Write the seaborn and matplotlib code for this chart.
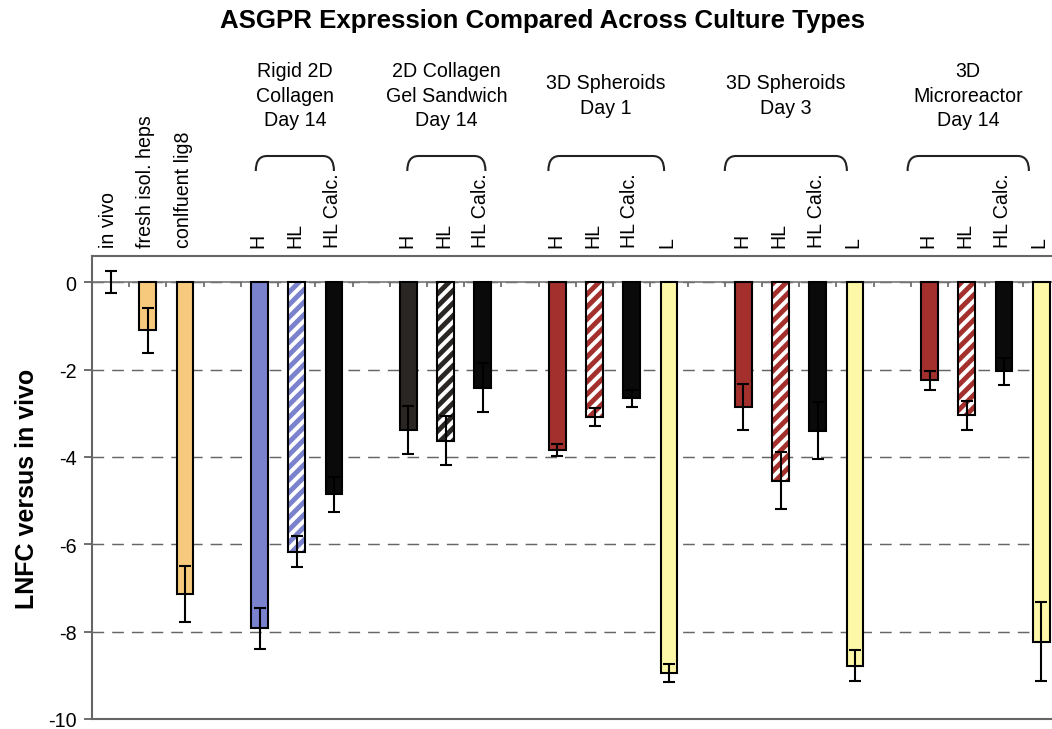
import matplotlib
matplotlib.use("Agg")
import numpy as np
import pandas as pd
import matplotlib.pyplot as plt
import seaborn as sns
from matplotlib.path import Path
from matplotlib.patches import PathPatch, Rectangle
from matplotlib.transforms import blended_transform_factory

sns.set_theme(style="white")
plt.rcParams["font.family"] = ["Liberation Sans", "DejaVu Sans"]
plt.rcParams["axes.unicode_minus"] = False
plt.rcParams["hatch.linewidth"] = 1.9

# ---- data: log-normalised fold change (LNFC) relative to in vivo ----
reference_labels = ["in vivo", "fresh isol. heps", "conlfuent lig8"]
reference_values = [0.0, -1.10, -7.14]
reference_errors = [0.25, 0.51, 0.65]

group_titles = [
    "Rigid 2D\nCollagen\nDay 14",
    "2D Collagen\nGel Sandwich\nDay 14",
    "3D Spheroids\nDay 1",
    "3D Spheroids\nDay 3",
    "3D\nMicroreactor\nDay 14",
]
group_conditions = [
    ["H", "HL", "HL Calc."],
    ["H", "HL", "HL Calc."],
    ["H", "HL", "HL Calc.", "L"],
    ["H", "HL", "HL Calc.", "L"],
    ["H", "HL", "HL Calc.", "L"],
]
group_values = [
    [-7.92, -6.17, -4.85],
    [-3.38, -3.63, -2.42],
    [-3.84, -3.09, -2.66, -8.95],
    [-2.86, -4.54, -3.40, -8.78],
    [-2.25, -3.05, -2.04, -8.23],
]
group_errors = [
    [0.47, 0.35, 0.40],
    [0.55, 0.56, 0.56],
    [0.13, 0.21, 0.19, 0.21],
    [0.52, 0.66, 0.65, 0.36],
    [0.21, 0.33, 0.31, 0.90],
]

# ---- styling ----
ORANGE = "#F7C97C"
BLUE = "#7A82CE"
DARK = "#2A2624"
RED = "#A3302C"
PALE = "#FDF7A8"
BLACK = "#0A0A0A"
reference_colors = ["white", ORANGE, ORANGE]
group_base_colors = [BLUE, DARK, RED, RED, RED]
# bracket extents over each group's bars, in slot units
group_brackets = [(3.9, 6.0), (7.97, 10.07), (11.76, 14.87), (16.5, 19.78), (21.41, 24.67)]

# ---- assemble long table with one slot per bar and empty spacer slots ----
rows = []
order = []
slot = 0
for lab, v, e, c in zip(reference_labels, reference_values, reference_errors, reference_colors):
    sid = f"s{slot:02d}"
    rows.append(dict(slot=sid, pos=slot, label=lab, value=v, err=e, color=c, hatched=False))
    order.append(sid)
    slot += 1
for conds, vals, errs, base in zip(group_conditions, group_values, group_errors, group_base_colors):
    order.append(f"s{slot:02d}")  # spacer
    slot += 1
    for cond, v, e in zip(conds, vals, errs):
        sid = f"s{slot:02d}"
        if cond == "HL Calc.":
            col = BLACK
        elif cond == "L":
            col = PALE
        else:
            col = base
        rows.append(dict(slot=sid, pos=slot, label=cond, value=v, err=e, color=col,
                         hatched=(cond == "HL")))
        order.append(sid)
        slot += 1
df = pd.DataFrame(rows)
n_slots = len(order)

W, H, DPI = 1052, 730, 150
fig, ax = plt.subplots(figsize=(W / DPI, H / DPI), dpi=DPI)
fig.subplots_adjust(left=92 / W, right=1.0, top=1 - 257 / H, bottom=1 - 720 / H)

palette = dict(zip(df["slot"], df["color"]))
sns.barplot(data=df, x="slot", y="value", hue="slot", order=order, hue_order=list(df["slot"]),
            palette=palette, width=0.45, dodge=False, legend=False, errorbar=None,
            edgecolor="black", linewidth=1.0, saturation=1.0, ax=ax, zorder=2)

hatched_pos = set(df.loc[df["hatched"], "pos"])
zero_pos = set(df.loc[df["value"] == 0, "pos"])
for p in list(ax.patches):
    centre = int(round(p.get_x() + p.get_width() / 2))
    if centre in zero_pos:
        p.set_linewidth(0)
    if centre in hatched_pos:
        p.set_hatch("////")
        p.set_edgecolor("white")
        p.set_linewidth(0)
        ax.add_patch(Rectangle(p.get_xy(), p.get_width(), p.get_height(), fill=False,
                               edgecolor="black", linewidth=1.0, zorder=2.5))

ax.errorbar(df["pos"], df["value"], yerr=df["err"], fmt="none", ecolor="black",
            elinewidth=1.0, capsize=2.7, capthick=1.0, zorder=3)

# ---- axes ----
ax.set_xlim(-0.5, 25.29)
ax.set_ylim(-10, 0.6)
ax.set_yticks([0, -2, -4, -6, -8, -10])
ax.set_yticklabels(["0", "-2", "-4", "-6", "-8", "-10"])
ax.set_xlabel("")
ax.set_xticks([])
ax.tick_params(axis="y", left=True, length=4, width=0.8, color="#555555",
               labelsize=9.5, pad=3.5, labelcolor="black")
ax.set_ylabel("LNFC versus in vivo", fontsize=12, fontweight="bold", color="black")
ax.yaxis.set_label_coords(-0.055, 0.5)
for side in ("top", "left", "bottom"):
    ax.spines[side].set_color("#666666")
    ax.spines[side].set_linewidth(1.0)
ax.spines["right"].set_visible(False)

ax.set_axisbelow(True)
ax.yaxis.grid(True, linestyle=(0, (8, 5.5)), linewidth=0.7, color="#666666")
ax.axhline(0, color="#777777", linewidth=0.8, zorder=1.5)
ax.vlines(np.arange(0.5, n_slots - 1, 1.0), -0.11, 0, color="#666666", linewidth=0.8, zorder=1.5)

# ---- labels above the plotting area ----
top = blended_transform_factory(ax.transData, ax.transAxes)
for _, r in df.iterrows():
    ax.annotate(r["label"], xy=(r["pos"] - 0.05, 1.0), xycoords=top, xytext=(0, 4.3),
                textcoords="offset points", rotation=90, ha="center", va="bottom",
                fontsize=9.4, color="black", annotation_clip=False)

ax_h = 463.0
y_top = 1 + 100 / ax_h
y_end = 1 + 85 / ax_h
y_title = 1 + 161 / ax_h
r = 0.3
for (x0, x1), title in zip(group_brackets, group_titles):
    verts = [(x0, y_end), (x0, y_top), (x0 + r, y_top), (x1 - r, y_top),
             (x1, y_top), (x1, y_end)]
    codes = [Path.MOVETO, Path.CURVE3, Path.CURVE3, Path.LINETO, Path.CURVE3, Path.CURVE3]
    ax.add_patch(PathPatch(Path(verts, codes), transform=top, fill=False,
                           edgecolor="#222222", linewidth=1.0, clip_on=False))
    ax.text((x0 + x1) / 2, y_title, title, transform=top, ha="center", va="center",
            multialignment="center", linespacing=1.38, fontsize=9.4, color="black")

fig.text(542 / W, 1 - 21 / H, "ASGPR Expression Compared Across Culture Types",
         ha="center", va="center", fontsize=12.4, fontweight="bold", color="black")

fig.savefig("out.png", dpi=DPI)
